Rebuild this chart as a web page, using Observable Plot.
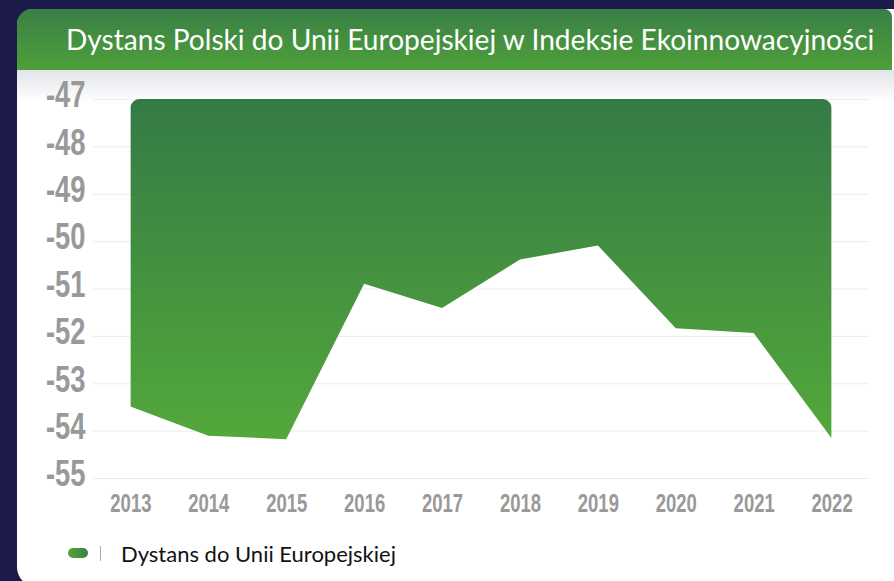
<!DOCTYPE html>
<html>
<head>
<meta charset="utf-8">
<script src="https://cdn.jsdelivr.net/npm/d3@7"></script>
<script src="https://cdn.jsdelivr.net/npm/@observablehq/plot@0.6"></script>
<style>
  html, body { margin: 0; padding: 0; }
  body { width: 894px; height: 581px; background: #1c1b4b; position: relative; overflow: hidden; font-family: Lato, "Open Sans", sans-serif; }
  #card { position: absolute; left: 17px; top: 9px; width: 900px; height: 578px; background: #ffffff; border-radius: 16px 0 0 20px; }
  #header { position: absolute; left: 17px; top: 9px; width: 875px; height: 61px; border-radius: 15px 8px 0 0;
            background: linear-gradient(#3a8046, #4e9f3a); }
  #title { position: absolute; left: 66px; top: 9px; height: 61px; line-height: 61px; color: #fff; font-size: 28.1px; white-space: nowrap; font-family: Lato, sans-serif; }
  #band { position: absolute; left: 17px; top: 70px; width: 877px; height: 32px; background: linear-gradient(#e3e4ea, #ffffff); }
  #chart { position: absolute; left: 17px; top: 70px; }
  #legend { position: absolute; left: 68px; top: 540px; display: flex; align-items: center; height: 26px; }
  #legend .pill { width: 20px; height: 10px; border-radius: 5px; background: linear-gradient(90deg, #52a63a, #3a8046); }
  #legend .sep { width: 1px; height: 15px; background: #aaa; margin-left: 12px; margin-right: 20px; }
  #legend .lbl { font-size: 22px; color: #111; font-family: Lato, sans-serif; }
</style>
</head>
<body>
<div id="card"></div>
<div id="header"></div>
<div id="title">Dystans Polski do Unii Europejskiej w Indeksie Ekoinnowacyjności</div>
<div id="band"></div>
<div id="chart"></div>
<div id="legend"><div class="pill"></div><div class="sep"></div><div class="lbl">Dystans do Unii Europejskiej</div></div>
<script>
const years = [2013, 2014, 2015, 2016, 2017, 2018, 2019, 2020, 2021, 2022];
const distance = [-53.49, -54.11, -54.18, -50.90, -51.41, -50.39, -50.09, -51.84, -51.94, -54.16];
const yTicks = [-47, -48, -49, -50, -51, -52, -53, -54, -55];
const yTop = -47;
const yBottom = -55;
const seriesName = "Dystans do Unii Europejskiej";

const data = years.map((y, i) => ({year: y, value: distance[i]}));

const ns = "http://www.w3.org/2000/svg";
// gradient + rounded clip for the area, positioned through the plot's own scales
const defs = (index, scales) => {
  const d = document.createElementNS(ns, "defs");
  const g = document.createElementNS(ns, "linearGradient");
  g.setAttribute("id", "areaGrad");
  g.setAttribute("x1", "0"); g.setAttribute("y1", "0");
  g.setAttribute("x2", "0"); g.setAttribute("y2", "1");
  [["0%", "#357a46"], ["100%", "#53a83a"]].forEach(([o, c]) => {
    const s = document.createElementNS(ns, "stop");
    s.setAttribute("offset", o); s.setAttribute("stop-color", c);
    g.appendChild(s);
  });
  d.appendChild(g);
  const cp = document.createElementNS(ns, "clipPath");
  cp.setAttribute("id", "areaClip");
  const r = document.createElementNS(ns, "rect");
  const x0 = scales.x(years[0]), x1 = scales.x(years[years.length - 1]);
  const y0 = scales.y(yTop), y1 = scales.y(yBottom);
  r.setAttribute("x", x0); r.setAttribute("width", x1 - x0);
  r.setAttribute("y", y0); r.setAttribute("height", y1 - y0);
  r.setAttribute("rx", 9); r.setAttribute("ry", 9);
  cp.appendChild(r);
  d.appendChild(cp);
  return d;
};

const axisFont = "Liberation Sans, Arial, sans-serif";

const chart = Plot.plot({
  width: 877,
  height: 460,
  marginTop: 29,
  marginBottom: 52,
  marginLeft: 76,
  marginRight: 25,
  style: {background: "transparent", overflow: "visible"},
  x: {type: "point", domain: years, padding: 0.48, round: false},
  y: {domain: [yBottom, yTop]},
  marks: [
    defs,
    Plot.gridY(yTicks, {stroke: "#ececec", strokeOpacity: 1, strokeWidth: 1}),
    Plot.areaY(data, {x: "year", y1: () => yTop, y2: "value", fill: "url(#areaGrad)"}),
    Plot.axisY(yTicks, {
      tickSize: 0, tickPadding: 8, tickFormat: d => String(d),
      fontSize: 37, fontWeight: "bold", fontFamily: axisFont,
      fill: "#999999", dy: -4, label: null
    }),
    Plot.axisX(years, {
      tickSize: 0, tickPadding: 16, tickFormat: d => String(d),
      fontSize: 25, fontWeight: "bold", fontFamily: axisFont,
      fill: "#999999", label: null
    })
  ]
});

const areaG = chart.querySelector('g[aria-label="area"]');
if (areaG) areaG.setAttribute("clip-path", "url(#areaClip)");

// condense the axis labels horizontally (narrow display face in the original)
chart.querySelectorAll('g[aria-label$="tick label"] text').forEach(t => {
  const tr = t.getAttribute("transform") || "";
  const x = t.getAttribute("x");
  const y = t.getAttribute("y");
  if (x != null || y != null) {
    const xx = +x || 0, yy = +y || 0;
    t.setAttribute("transform", `${tr} translate(${xx},${yy}) scale(0.74,1) translate(${-xx},${-yy})`);
  } else {
    t.setAttribute("transform", `${tr} scale(0.74,1)`);
  }
});

document.getElementById("chart").appendChild(chart);
</script>
</body>
</html>
